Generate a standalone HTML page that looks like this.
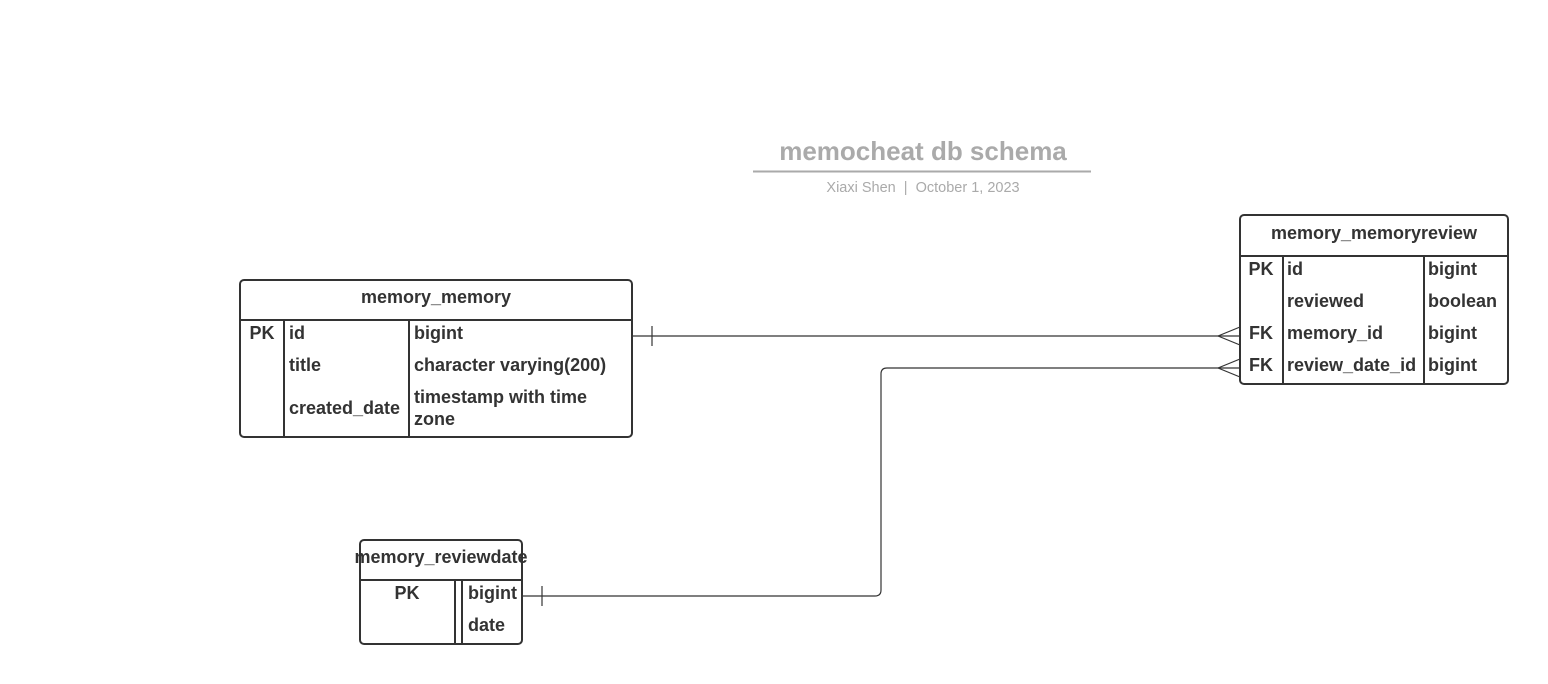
<!DOCTYPE html>
<html><head><meta charset="utf-8"><style>
html,body{margin:0;padding:0;background:#fff;}
svg{display:block;}
text{font-family:"Liberation Sans",sans-serif;white-space:pre;}
.b{font-weight:bold;font-size:18px;fill:#333;}
</style></head><body>
<svg width="1548" height="684" viewBox="0 0 1548 684" xmlns="http://www.w3.org/2000/svg">
<text x="923" y="160" text-anchor="middle" font-size="26" font-weight="bold" fill="#aaa">memocheat db schema</text>
<line x1="753" y1="171.5" x2="1091" y2="171.5" stroke="#aaa" stroke-width="2"/>
<text x="923" y="192" text-anchor="middle" font-size="14.5" fill="#aaa" xml:space="preserve">Xiaxi Shen  |  October 1, 2023</text>

<g fill="none" stroke="#333" stroke-width="1.2">
<line x1="632" y1="336" x2="1240" y2="336"/>
<line x1="652" y1="326" x2="652" y2="346"/>
<line x1="1218" y1="336" x2="1240" y2="327"/>
<line x1="1218" y1="336" x2="1240" y2="345"/>
<path d="M522 596 H875 Q881 596 881 590 V374 Q881 368 887 368 H1240"/>
<line x1="542" y1="586" x2="542" y2="606"/>
<line x1="1218" y1="368" x2="1240" y2="359"/>
<line x1="1218" y1="368" x2="1240" y2="377"/>
</g>

<g fill="#fff" stroke="#333" stroke-width="2">
<rect x="240" y="280" width="392" height="157" rx="4"/>
<line x1="240" y1="320" x2="632" y2="320"/>
<line x1="284" y1="320" x2="284" y2="437"/>
<line x1="409" y1="320" x2="409" y2="437"/>
<rect x="1240" y="215" width="268" height="169" rx="4"/>
<line x1="1240" y1="256" x2="1508" y2="256"/>
<line x1="1283" y1="256" x2="1283" y2="384"/>
<line x1="1424" y1="256" x2="1424" y2="384"/>
<rect x="360" y="540" width="162" height="104" rx="4"/>
<line x1="360" y1="580" x2="522" y2="580"/>
<line x1="455" y1="580" x2="455" y2="644"/>
<line x1="462" y1="580" x2="462" y2="644"/>
</g>

<text class="b" x="436" y="303" text-anchor="middle">memory_memory</text>
<text class="b" x="262" y="339" text-anchor="middle">PK</text>
<text class="b" x="289" y="339">id</text>
<text class="b" x="414" y="339">bigint</text>
<text class="b" x="289" y="371">title</text>
<text class="b" x="414" y="371">character varying(200)</text>
<text class="b" x="289" y="414">created_date</text>
<text class="b" x="414" y="403">timestamp with time</text>
<text class="b" x="414" y="425">zone</text>

<text class="b" x="1374" y="239" text-anchor="middle">memory_memoryreview</text>
<text class="b" x="1261" y="275" text-anchor="middle">PK</text>
<text class="b" x="1287" y="275">id</text>
<text class="b" x="1428" y="275">bigint</text>
<text class="b" x="1287" y="307">reviewed</text>
<text class="b" x="1428" y="307">boolean</text>
<text class="b" x="1261" y="339" text-anchor="middle">FK</text>
<text class="b" x="1287" y="339">memory_id</text>
<text class="b" x="1428" y="339">bigint</text>
<text class="b" x="1261" y="371" text-anchor="middle">FK</text>
<text class="b" x="1287" y="371">review_date_id</text>
<text class="b" x="1428" y="371">bigint</text>

<text class="b" x="441" y="563" text-anchor="middle">memory_reviewdate</text>
<text class="b" x="407" y="599" text-anchor="middle">PK</text>
<text class="b" x="468" y="599">bigint</text>
<text class="b" x="468" y="631">date</text>
</svg>
</body></html>
